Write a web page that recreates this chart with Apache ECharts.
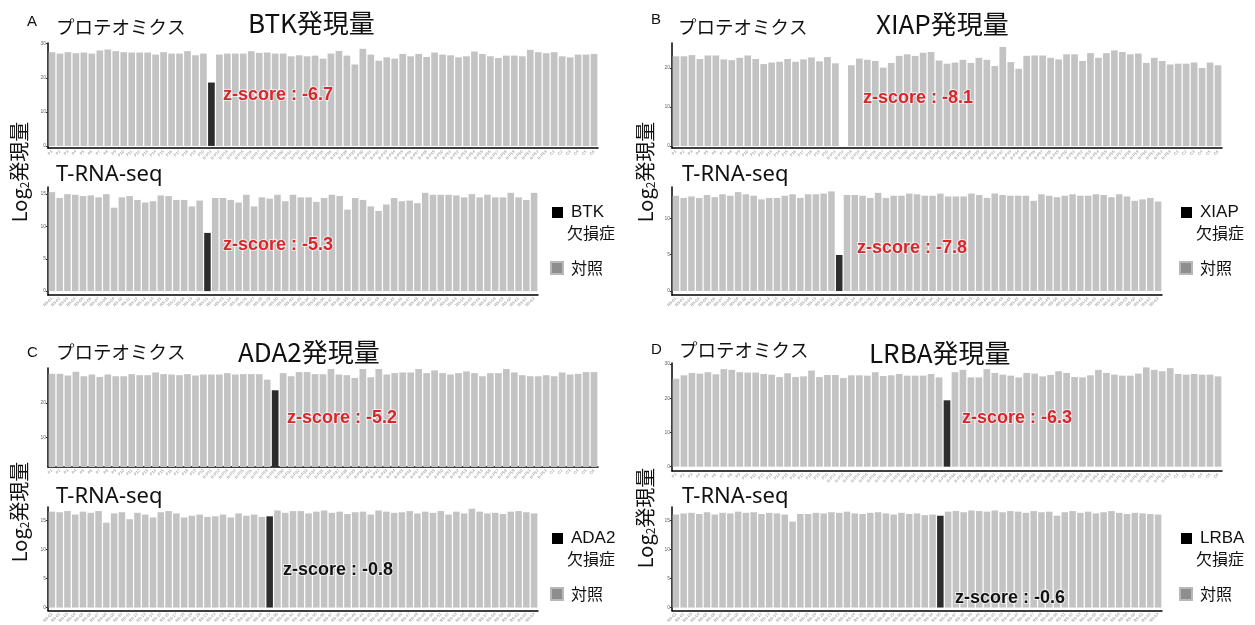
<!DOCTYPE html>
<html>
<head>
<meta charset="utf-8">
<script src="https://cdn.jsdelivr.net/npm/echarts@6/dist/echarts.min.js"></script>
<style>
  html, body { margin: 0; padding: 0; background: #fff; }
  #chart { width: 1255px; height: 625px; }
</style>
</head>
<body>
<div id="chart"></div>
<script>
// サンプル名（x軸）
const protSamples = ('P1 P2 P3 P4 P5 P6 P7 P8 P9 P10 P11 P12 P13 P14 P15 P16 P17 P18 P19 P20 ' +
  'B-P21 B-P22 B-P23 B-P24 B-P25 B-P26 B-P27 B-P28 B-P29 B-P30 B-P31 B-P32 B-P33 B-P34 B-P35 ' +
  'B-P36 B-P37 B-P38 B-P39 B-P40 B-P41 B-P42 B-P43 B-P44 B-P45 B-P46 B-P47 B-P48 B-P49 B-P50 ' +
  'B-P51 B-P52 B-P53 B-P54 B-P55 B-P56 B-P57 B-P58 B-P59 B-P60 B-P61 B-P62 B-P63 C1 C2 C3 C4 C5 C6').split(' ');
const rnaSamples = ('RS-01 RS-02 RS-03 RS-04 RS-05 RS-06 RS-07 RS-08 RS-09 RS-10 RS-11 RS-12 RS-13 RS-14 RS-15 ' +
  'RS-16 RS-17 RS-18 RS-19 RS-20 RS-21 RS-22 RS-23 RS-24 RS-25 RS-26 RS-27 RS-28 RS-29 RS-30 ' +
  'RS-31 RS-32 RS-33 RS-34 RS-35 RS-36 RS-37 RS-38 RS-39 RS-40 RS-41 RS-42 RS-43 RS-44 RS-45 ' +
  'RS-46 RS-47 RS-48 RS-49 RS-50 RS-51 RS-52 RS-53 RS-54 RS-55 RS-56 RS-57 RS-58 RS-59 RS-60 ' +
  'RS-61 RS-62 RS-63').split(' ');

// A: BTK
const btkProt = [27.5, 27.1, 27.5, 27.2, 27.4, 27.1, 28.0, 28.3, 27.8, 27.5, 27.4, 27.4, 27.4, 26.8, 27.5, 27.1, 27.1, 27.8, 26.6, 27.1,
  18.6,
  26.8, 27.1, 27.1, 27.1, 27.8, 27.3, 27.4, 27.1, 27.1, 26.3, 26.6, 26.3, 26.5, 25.6, 27.1, 27.9, 26.5, 23.9, 28.5, 26.8,
  25.0, 26.0, 25.6, 27.0, 26.3, 27.0, 26.1, 27.4, 26.8, 26.6, 26.0, 26.3, 27.7, 27.0, 26.3, 25.8, 26.5, 26.5, 26.3, 28.2,
  27.5, 27.2, 27.5, 26.3, 26.0, 26.8, 26.8, 27.0];
const btkRna = [15.3, 14.4, 15.0, 14.9, 14.7, 14.8, 14.5, 15.0, 12.9, 14.5, 14.7, 14.1, 13.7, 13.9, 14.8, 14.7, 14.1, 14.1, 13.1, 14.0,
  9.0,
  14.4, 14.4, 14.1, 13.7, 14.9, 13.1, 14.5, 14.3, 14.9, 13.9, 14.9, 14.5, 14.5, 13.8, 14.4, 14.9, 14.7, 12.6, 14.4, 14.1,
  13.1, 12.4, 13.4, 14.4, 13.9, 14.0, 13.6, 15.2, 14.9, 14.9, 14.9, 14.8, 14.5, 15.0, 14.5, 14.9, 14.5, 14.5, 15.2, 14.5,
  14.1, 15.2];

// B: XIAP（プロテオミクスは欠損症例が検出されず）
const xiapProt = [23.0, 23.0, 23.3, 22.3, 23.2, 23.2, 22.2, 22.0, 22.6, 23.2, 22.3, 21.0, 21.4, 21.6, 22.3, 21.6, 22.2, 22.7, 21.7, 22.8, 21.2,
  '-',
  20.7, 22.4, 22.1, 21.8, 20.1, 21.3, 23.1, 23.5, 23.1, 23.9, 24.1, 21.9, 21.1, 21.4, 22.1, 21.3, 22.6, 22.1, 20.5, 25.4,
  21.5, 19.8, 23.1, 23.2, 23.2, 22.6, 22.2, 23.5, 23.5, 21.8, 23.8, 22.6, 23.8, 24.5, 24.1, 23.5, 23.7, 21.3, 22.6, 21.8,
  20.9, 21.1, 21.1, 21.4, 20.0, 21.4, 20.7];
const xiapRna = [13.1, 12.8, 13.0, 12.8, 13.2, 12.9, 13.3, 13.1, 13.6, 13.3, 13.1, 12.6, 12.8, 12.8, 13.1, 13.3, 12.8, 13.3, 13.3, 13.4, 13.7,
  4.95,
  13.2, 13.2, 13.1, 12.8, 13.5, 12.8, 13.1, 13.1, 13.4, 13.3, 13.1, 13.1, 13.4, 13.0, 13.0, 13.0, 13.4, 13.2, 12.8, 13.4,
  13.2, 13.1, 13.1, 13.1, 12.4, 13.3, 13.1, 12.9, 13.1, 13.3, 13.1, 13.1, 13.3, 13.2, 12.9, 13.3, 13.0, 12.4, 12.6, 12.8, 12.3];

// C: ADA2
const ada2Prot = [28.5, 28.5, 28.0, 29.1, 27.8, 28.3, 27.6, 28.3, 27.8, 27.8, 28.4, 28.1, 28.1, 28.9, 28.4, 28.3, 28.1, 28.4, 28.0, 28.3,
  28.3, 28.3, 28.7, 28.3, 28.4, 28.4, 28.4, 26.8,
  23.7,
  28.7, 27.8, 29.0, 29.0, 28.4, 28.4, 29.9, 28.3, 28.1, 27.3, 29.9, 27.5, 29.9, 28.3, 28.7, 28.9, 28.9, 29.9, 28.7, 29.5,
  28.7, 28.3, 28.7, 29.2, 28.7, 27.8, 28.7, 28.7, 29.9, 28.9, 28.1, 27.8, 27.8, 28.1, 27.8, 28.9, 28.3, 28.5, 29.0, 29.0];
const ada2Rna = [16.5, 16.4, 16.6, 16.0, 16.5, 16.3, 16.6, 14.6, 16.2, 16.4, 15.2, 16.3, 16.0, 15.5, 16.4, 16.6, 16.2, 15.5, 15.8, 16.0,
  15.6, 15.7, 16.0, 15.5, 16.2, 15.8, 16.0, 15.6,
  15.7,
  16.7, 16.3, 16.6, 16.6, 16.2, 16.5, 16.7, 16.3, 16.5, 16.1, 16.4, 16.5, 16.0, 16.7, 16.5, 16.3, 16.4, 16.6, 16.2, 16.5,
  16.3, 16.6, 16.0, 16.5, 16.2, 17.0, 16.5, 16.2, 16.3, 16.1, 16.5, 16.6, 16.4, 16.2];

// D: LRBA
const lrbaProt = [25.7, 26.7, 27.4, 27.2, 27.6, 27.0, 28.5, 28.3, 27.6, 27.5, 27.5, 27.1, 26.9, 26.2, 27.3, 26.2, 26.4, 28.1, 26.2, 26.8,
  26.8, 25.9, 26.7, 26.7, 26.6, 27.6, 26.5, 26.7, 27.1, 26.6, 26.6, 26.6, 27.1, 26.1,
  19.4,
  27.6, 28.3, 26.1, 26.1, 28.5, 27.4, 26.9, 26.6, 26.1, 27.4, 27.2, 26.4, 26.8, 27.9, 27.4, 26.2, 26.1, 26.7, 28.3, 27.4,
  26.9, 26.6, 26.6, 27.2, 29.0, 28.3, 27.9, 28.8, 27.1, 26.9, 27.1, 26.9, 26.9, 26.4];
const lrbaRna = [16.0, 16.2, 16.3, 16.1, 16.4, 16.0, 16.3, 16.2, 16.5, 16.3, 16.4, 16.1, 16.3, 16.2, 16.0, 14.8, 16.1, 16.1, 16.3, 16.2,
  16.4, 16.3, 16.5, 16.2, 16.1, 16.3, 16.4, 16.2, 16.0, 16.3, 16.1, 16.2, 15.9, 16.0,
  15.8,
  16.5, 16.6, 16.4, 16.7, 16.6, 16.5, 16.7, 16.4, 16.6, 16.5, 16.3, 16.6, 16.4, 16.5, 15.8, 16.4, 16.6, 16.3, 16.5, 16.2,
  16.4, 16.6, 16.3, 16.1, 16.3, 16.2, 16.1, 16.0];

// 欠損症例の位置
const deficientIdx = { btkProt: 20, btkRna: 20, xiapProt: 21, xiapRna: 21, ada2Prot: 28, ada2Rna: 28, lrbaProt: 34, lrbaRna: 34 };
const yTicksProt = [0, 10, 20, 30];
const yTicksRna = [0, 5, 10, 15];

const GREY = '#c3c3c3';
const DARK = '#2d2d2d';
const JP = '"Noto Sans CJK JP", "Noto Sans", sans-serif';
const EN = '"Liberation Sans", Arial, sans-serif';

const panels = [
  { vals: btkProt, idx: deficientIdx.btkProt, cats: protSamples, left: 48, top: 43, width: 550, height: 105, min: -0.6, max: 30.2, ticks: yTicksProt },
  { vals: btkRna, idx: deficientIdx.btkRna, cats: rnaSamples, left: 48, top: 187, width: 490, height: 108, min: -0.6, max: 16.1, ticks: yTicksRna },
  { vals: xiapProt, idx: deficientIdx.xiapProt, cats: protSamples, left: 672, top: 43, width: 550, height: 105, min: -0.5, max: 26.4, ticks: [0, 10, 20] },
  { vals: xiapRna, idx: deficientIdx.xiapRna, cats: rnaSamples, left: 672, top: 187, width: 490, height: 108, min: -0.55, max: 14.3, ticks: [0, 5, 10] },
  { vals: ada2Prot, idx: deficientIdx.ada2Prot, cats: protSamples, left: 48, top: 368, width: 550, height: 99, min: 1.3, max: 30.2, ticks: [10, 20] },
  { vals: ada2Rna, idx: deficientIdx.ada2Rna, cats: rnaSamples, left: 48, top: 507, width: 490, height: 110, min: -0.5, max: 17.3, ticks: yTicksRna },
  { vals: lrbaProt, idx: deficientIdx.lrbaProt, cats: protSamples, left: 672, top: 363, width: 550, height: 108, min: -1.26, max: 30.3, ticks: yTicksProt },
  { vals: lrbaRna, idx: deficientIdx.lrbaRna, cats: rnaSamples, left: 672, top: 507, width: 490, height: 110, min: -0.5, max: 17.3, ticks: yTicksRna }
];

const grid = [], xAxis = [], yAxis = [], series = [];
panels.forEach(function (p, i) {
  grid.push({ left: p.left, top: p.top, width: p.width, height: p.height });
  xAxis.push({
    gridIndex: i, type: 'category', data: p.cats.slice(0, p.vals.length),
    axisLine: { onZero: false, lineStyle: { color: '#000', width: 1.5 } },
    axisTick: { alignWithLabel: true, interval: 0, length: 2, lineStyle: { color: '#222' } },
    axisLabel: { interval: 0, rotate: 45, fontSize: 4, color: '#888', margin: 3, fontFamily: EN }
  });
  yAxis.push({
    gridIndex: i, type: 'value', min: p.min, max: p.max,
    axisLine: { show: true, lineStyle: { color: '#000', width: 1.5 } },
    axisTick: { show: true, length: 2, customValues: p.ticks, lineStyle: { color: '#333' } },
    axisLabel: { fontSize: 5, color: '#666', margin: 2, customValues: p.ticks, fontFamily: EN },
    splitLine: { show: false }
  });
  series.push({
    type: 'bar', xAxisIndex: i, yAxisIndex: i, barCategoryGap: '16%',
    itemStyle: { color: GREY },
    data: p.vals.map(function (v, j) {
      return j === p.idx ? { value: v, itemStyle: { color: DARK } } : v;
    })
  });
});

function txt(x, y, text, size, extra) {
  return {
    type: 'text', x: x, y: y, z: 100, silent: true,
    style: Object.assign({ text: text, fontSize: size, fontFamily: JP, fill: '#111', textVerticalAlign: 'middle' }, extra || {})
  };
}
function zscore(x, y, text, color) {
  return txt(x, y, text, 18, { fontFamily: EN, fontWeight: 'bold', fill: color, stroke: 'rgba(255,255,255,0.6)', lineWidth: 2 });
}
function yTitle(x, y) {
  return {
    type: 'text', x: x, y: y, z: 100, rotation: Math.PI / 2, silent: true,
    style: {
      text: '{a|Log}{s|2}{a|発現量}', textAlign: 'center', textVerticalAlign: 'middle',
      rich: {
        a: { fontSize: 20, fontFamily: JP, fill: '#111' },
        s: { fontSize: 12, fontFamily: JP, fill: '#111', padding: [10, 0, 0, 0] }
      }
    }
  };
}
function legend(x, y, gene) {
  return [
    { type: 'rect', z: 100, shape: { x: x, y: y - 5, width: 11, height: 11 }, style: { fill: '#000' }, silent: true },
    txt(x + 19, y, gene, 17, { fontFamily: EN }),
    txt(x + 15, y + 21, '欠損症', 16),
    { type: 'rect', z: 100, shape: { x: x - 1, y: y + 50, width: 12, height: 12 }, style: { fill: '#8e8e8e', stroke: '#b8b8b8', lineWidth: 2 }, silent: true },
    txt(x + 19, y + 56, '対照', 16)
  ];
}

const RED = '#d8262b';
const SEQ = { fontFamily: '"Noto Sans", sans-serif' };
const graphic = [
  // A
  txt(27, 22, 'A', 15, { fontFamily: EN }),
  txt(56, 27, 'プロテオミクス', 18.5),
  txt(248, 23, 'BTK発現量', 26),
  txt(56, 175, 'T-RNA-seq', 22, SEQ),
  zscore(223, 95, 'z-score : -6.7', RED),
  zscore(223, 245, 'z-score : -5.3', RED),
  yTitle(19, 172),
  // B
  txt(651, 20, 'B', 15, { fontFamily: EN }),
  txt(678, 27, 'プロテオミクス', 18.5),
  txt(876, 24, 'XIAP発現量', 26),
  txt(682, 175, 'T-RNA-seq', 22, SEQ),
  zscore(863, 98, 'z-score : -8.1', RED),
  zscore(857, 248, 'z-score : -7.8', RED),
  yTitle(645, 172),
  // C
  txt(27, 353, 'C', 15, { fontFamily: EN }),
  txt(56, 352, 'プロテオミクス', 18.5),
  txt(238, 352, 'ADA2発現量', 26),
  txt(56, 497, 'T-RNA-seq', 22, SEQ),
  zscore(287, 418, 'z-score : -5.2', RED),
  zscore(283, 570, 'z-score : -0.8', '#111'),
  yTitle(19, 512),
  // D
  txt(651, 350, 'D', 15, { fontFamily: EN }),
  txt(679, 350, 'プロテオミクス', 18.5),
  txt(869, 353, 'LRBA発現量', 26),
  txt(682, 497, 'T-RNA-seq', 22, SEQ),
  zscore(962, 418, 'z-score : -6.3', RED),
  zscore(955, 598, 'z-score : -0.6', '#111'),
  yTitle(645, 518)
].concat(legend(552, 212, 'BTK'), legend(1181, 212, 'XIAP'), legend(552, 538, 'ADA2'), legend(1181, 538, 'LRBA'));

const chart = echarts.init(document.getElementById('chart'));
chart.setOption({
  animation: false,
  backgroundColor: '#fff',
  grid: grid,
  xAxis: xAxis,
  yAxis: yAxis,
  series: series,
  graphic: graphic
});
</script>
</body>
</html>
